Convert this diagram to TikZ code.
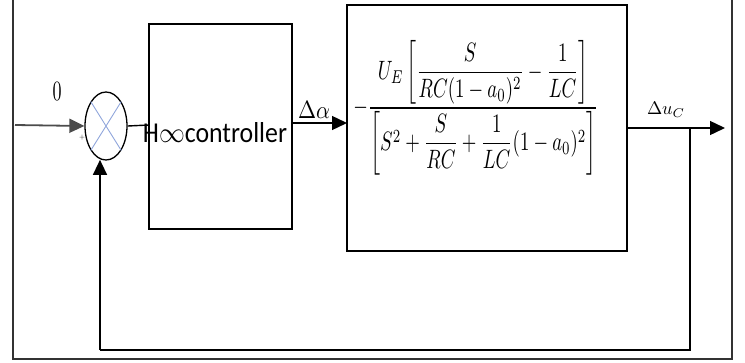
\documentclass[tikz,border=0pt]{standalone}
\usepackage{fontspec}
\setmainfont{Carlito}
\usepackage{amsmath}
\usetikzlibrary{arrows.meta,shapes.geometric,calc}
\begin{document}
\begin{tikzpicture}[x=1pt,y=-1pt,
  wire/.style={line width=1.4pt,draw=black},
  arr/.style={wire,-{Triangle[length=15pt,width=14pt]}},
  blockbox/.style={draw=black,line width=1.8pt},
  lbl/.style={inner sep=0pt}]
\useasboundingbox (0,0) rectangle (745,362);
% frame (open at top)
\draw[line width=1.2pt,draw=black!80] (13,0) -- (13,359) -- (732,359) -- (732,0);
% blocks
\draw[blockbox] (149,24) rectangle (292,229);
\coordinate (ctrlL) at (149,125);
\coordinate (ctrlR) at (292,123);
\draw[blockbox] (347,5) rectangle (627,251);
\coordinate (plantL) at (347,123);
\coordinate (plantR) at (627,128);
% summer
\node[draw=black,line width=1.3pt,ellipse,minimum width=42pt,minimum height=68pt,inner sep=0pt] (sum) at (106,126) {};
\draw[draw=cyan!40!blue!45,line width=0.9pt] (sum.122) -- (sum.302) (sum.58) -- (sum.238);
% input
\coordinate (in) at (15,125);
\draw[arr,draw=black!70,line width=1.8pt] (in) -- (sum.west);
\node[lbl] at (57,91) {\resizebox{9pt}{18pt}{$0$}};
\node[lbl] at (82,138) {\resizebox{6pt}{!}{$+$}};
% sum to controller
\draw[wire] (sum.east) -- (ctrlL);
\node[lbl] at (215,133) {\resizebox{144pt}{20pt}{H$\infty$controller}};
% controller to plant
\draw[arr] (ctrlR) -- (plantL);
\node[lbl] at (314,110) {\resizebox{32pt}{17pt}{$\Delta\alpha$}};
% plant formula
\node[lbl] at (476,108) {\resizebox*{245pt}{135pt}{$\displaystyle -\frac{U_E\left[\dfrac{S}{RC(1-a_0)^2}-\dfrac{1}{LC}\right]}{\left[S^2+\dfrac{S}{RC}+\dfrac{1}{LC}(1-a_0)^2\right]}$}};
% output
\coordinate (out) at (725,128);
\coordinate (tap) at (690,128);
\draw[arr] (plantR) -- (out);
\node[lbl] at (666,110) {\resizebox{38pt}{!}{$\Delta u_C$}};
% feedback
\coordinate (fb1) at (690,350);
\coordinate (fb2) at (100,350);
\draw[wire] (tap) -- (fb1) -- (fb2);
\draw[arr] (fb2) -- ($(fb2 |- sum.south)+(0,-0.8)$);
\end{tikzpicture}
\end{document}
